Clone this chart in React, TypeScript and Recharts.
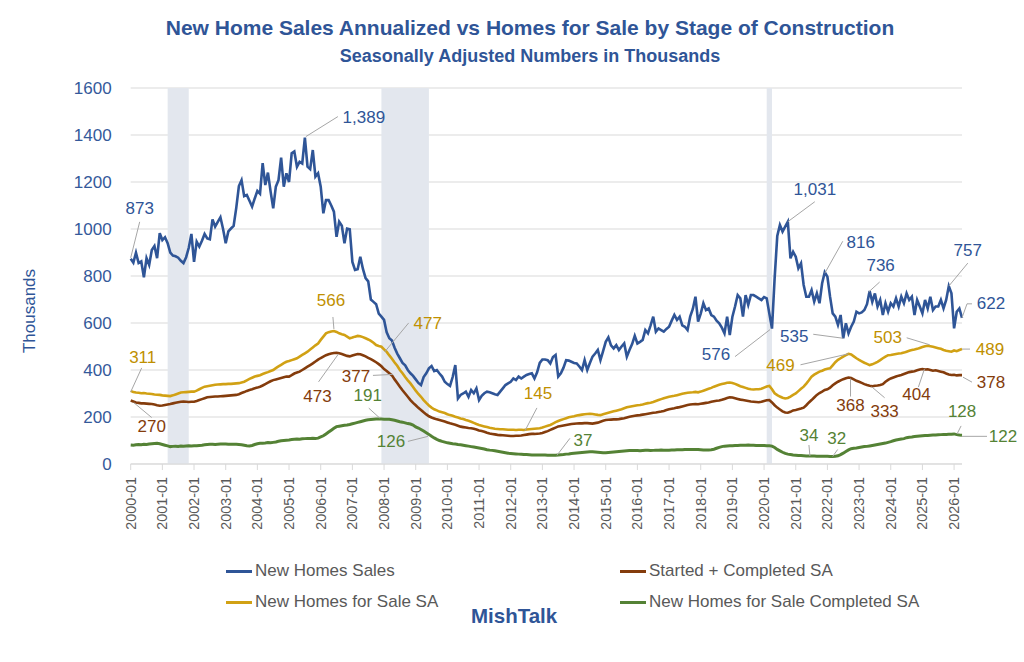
import React from "react";
import { LineChart, Line, XAxis, YAxis, CartesianGrid, ReferenceArea, LabelList } from "recharts";

// categories
const years = [
  2000, 2001, 2002, 2003, 2004, 2005, 2006, 2007, 2008, 2009, 2010, 2011, 2012, 2013,
  2014, 2015, 2016, 2017, 2018, 2019, 2020, 2021, 2022, 2023, 2024, 2025, 2026,
];
const monthNums = ["01", "02", "03", "04", "05", "06", "07", "08", "09", "10", "11", "12"];
const months = years.flatMap((y) => monthNums.map((m) => `${y}-${m}`)).slice(0, 316);
const yearTicks = years.map((y) => `${y}-01`);
const yTicks = [0, 200, 400, 600, 800, 1000, 1200, 1400, 1600];

// New Homes Sales, annualized, thousands (one row per year)
const sales = [
  873, 857, 899, 855, 862, 794, 876, 847, 911, 928, 876, 982,
  953, 965, 940, 900, 887, 884, 878, 865, 855, 880, 920, 979,
  860, 946, 925, 950, 979, 960, 956, 1041, 1010, 1030, 1050, 1000,
  939, 990, 1002, 1013, 1090, 1183, 1208, 1140, 1145, 1120, 1095, 1130,
  1162, 1150, 1280, 1187, 1240, 1160, 1088, 1180, 1208, 1304, 1180, 1237,
  1200, 1322, 1330, 1265, 1286, 1279, 1389, 1265, 1255, 1336, 1223, 1237,
  1180, 1067, 1123, 1123, 1100, 1074, 967, 1031, 1014, 939, 1002, 999,
  860, 826, 829, 882, 830, 791, 777, 700, 690, 680, 640, 627,
  613, 560, 535, 525, 495, 470, 450, 430, 420, 400, 386, 375,
  360, 345, 336, 370, 386, 407, 417, 395, 400, 385, 372, 350,
  340, 332, 370, 421, 279, 294, 300, 308, 286, 315, 301, 322,
  272, 290, 301, 308, 305, 301, 297, 294, 308, 322, 336, 343,
  350, 364, 357, 372, 364, 372, 379, 383, 386, 364, 390, 430,
  445, 445, 442, 428, 455, 464, 372, 386, 410, 442, 440, 435,
  430, 428, 415, 400, 442, 400, 430, 457, 470, 485, 442, 480,
  520, 539, 505, 492, 506, 485, 500, 513, 457, 485, 510, 545,
  513, 520, 528, 570, 556, 590, 627, 563, 577, 570, 563, 575,
  584, 610, 634, 613, 627, 590, 584, 570, 627, 660, 712, 606,
  640, 684, 655, 662, 634, 627, 610, 599, 580, 556, 627, 549,
  627, 670, 719, 705, 627, 719, 677, 719, 719, 712, 705, 698,
  710, 705, 640, 576, 790, 970, 1017, 989, 1010, 1031, 875, 903,
  882, 833, 854, 762, 712, 712, 740, 691, 726, 684, 769, 816,
  797, 712, 641, 627, 592, 634, 535, 599, 556, 584, 606, 648,
  641, 645, 655, 680, 736, 690, 726, 670, 698, 634, 684, 648,
  684, 670, 705, 670, 712, 684, 726, 698, 712, 634, 698, 670,
  641, 698, 662, 712, 655, 670, 670, 698, 662, 698, 757, 726,
  577, 648, 662, 622,
];

// New Homes for Sale SA
const forSale = [
  311, 306, 304, 303, 301, 302, 300, 299, 298, 296, 295, 294,
  292, 291, 290, 289, 292, 296, 300, 304, 305, 306, 307, 308,
  308, 312, 318, 324, 329, 331, 333, 335, 337, 338, 339, 340,
  340, 341, 341, 342, 343, 344, 347, 350, 356, 362, 367, 372,
  375, 378, 383, 387, 391, 396, 400, 408, 415, 422, 429, 435,
  438, 442, 446, 450, 457, 464, 471, 478, 487, 496, 505, 513,
  528, 542, 556, 561, 564, 566, 562, 556, 552, 549, 542, 535,
  538, 542, 545, 544, 540, 535, 530, 524, 516, 506, 502, 499,
  488, 477, 462, 448, 432, 418, 400, 386, 370, 356, 343, 328,
  312, 298, 286, 272, 260, 249, 240, 233, 228, 223, 220, 217,
  212, 208, 205, 201, 198, 194, 191, 187, 184, 180, 175, 170,
  166, 163, 160, 157, 154, 152, 150, 149, 148, 148, 147, 146,
  146, 146, 145, 146, 146, 145, 147, 148, 149, 150, 151, 152,
  155, 159, 163, 166, 172, 178, 183, 187, 191, 195, 199, 201,
  203, 206, 208, 210, 212, 213, 214, 213, 211, 209, 208, 212,
  215, 218, 221, 224, 227, 230, 233, 237, 241, 244, 246, 248,
  250, 251, 253, 256, 259, 261, 264, 268, 272, 276, 280, 283,
  286, 288, 290, 293, 296, 299, 301, 303, 304, 305, 307, 305,
  308, 312, 316, 320, 324, 329, 333, 337, 340, 343, 346, 347,
  345, 341, 336, 331, 328, 324, 320, 318, 317, 318, 318, 320,
  325, 330, 332, 318, 301, 293, 287, 282, 279, 281, 287, 294,
  300, 310, 320, 329, 342, 356, 372, 380, 387, 393, 397, 402,
  405, 407, 420, 433, 443, 450, 457, 463, 469, 466, 458, 450,
  443, 437, 431, 426, 421, 424, 429, 435, 442, 450, 457, 463,
  464, 466, 468, 470, 471, 474, 478, 482, 485, 487, 490, 494,
  498, 501, 503, 501, 499, 496, 493, 490, 485, 482, 480, 478,
  483, 480, 485, 489,
];

// Started + Completed SA
const started = [
  270, 266, 262, 260, 258, 258, 257, 256, 255, 253, 250, 248,
  249, 251, 253, 255, 258, 261, 263, 265, 266, 265, 264, 265,
  265, 268, 272, 276, 280, 284, 285, 286, 287, 287, 288, 289,
  290, 291, 292, 293, 294, 297, 302, 306, 311, 315, 318, 322,
  325, 329, 334, 340, 346, 352, 357, 360, 363, 366, 369, 372,
  372, 378, 385, 389, 393, 400, 407, 414, 421, 428, 436, 444,
  451, 457, 463, 467, 470, 472, 473, 471, 468, 464, 460, 458,
  462, 465, 468, 467, 463, 458, 452, 446, 440, 433, 425, 416,
  404, 396, 386, 377, 360, 345, 329, 314, 300, 286, 272, 260,
  250, 239, 230, 220, 211, 203, 198, 194, 190, 187, 184, 181,
  177, 173, 170, 167, 163, 159, 157, 155, 153, 152, 150, 147,
  143, 140, 137, 133, 130, 128, 126, 124, 123, 122, 121, 120,
  119, 119, 120, 120, 121, 123, 125, 127, 128, 128, 129, 130,
  132, 136, 140, 145, 150, 155, 160, 162, 164, 166, 168, 170,
  171, 172, 173, 173, 174, 174, 173, 172, 174, 176, 180, 184,
  187, 188, 189, 190, 190, 191, 193, 195, 198, 201, 203, 205,
  207, 208, 210, 212, 214, 216, 218, 219, 221, 223, 226, 230,
  233, 235, 237, 240, 242, 245, 248, 251, 253, 254, 255, 254,
  256, 258, 260, 262, 265, 267, 269, 270, 273, 277, 281, 284,
  283, 280, 277, 274, 272, 270, 268, 266, 265, 264, 263, 265,
  268, 271, 272, 262, 250, 240, 232, 224, 219, 218, 222, 228,
  230, 233, 236, 240, 250, 262, 272, 283, 294, 302, 308, 315,
  318, 325, 335, 343, 350, 356, 361, 365, 368, 366, 360, 354,
  350, 345, 340, 336, 333, 331, 333, 334, 336, 340, 350, 358,
  364, 368, 372, 376, 379, 383, 387, 391, 393, 395, 399, 402,
  404, 402, 403, 400, 397, 399, 396, 393, 390, 385, 381, 379,
  380, 377, 378, 378,
];

// New Homes for Sale Completed SA
const completed = [
  81, 80, 82, 83, 82, 84, 83, 85, 86, 87, 88, 86,
  83, 80, 77, 74, 75, 76, 75, 77, 76, 77, 78, 77,
  78, 78, 79, 80, 82, 83, 84, 84, 83, 84, 85, 85,
  85, 84, 84, 84, 84, 83, 82, 80, 78, 77, 79, 83,
  86, 88, 88, 89, 91, 90, 92, 94, 97, 99, 100, 101,
  102, 104, 105, 106, 105, 107, 108, 109, 109, 110, 109, 110,
  115, 120, 128, 136, 144, 152, 159, 161, 163, 165, 166, 168,
  171, 174, 177, 180, 183, 186, 188, 189, 190, 191, 191, 191,
  190, 190, 190, 188, 186, 183, 180, 178, 175, 172, 170, 166,
  158, 153, 147, 140, 133, 126, 118, 111, 105, 100, 96, 93,
  90, 88, 86, 85, 83, 82, 80, 78, 76, 74, 72, 70,
  68, 66, 64, 61, 59, 58, 56, 54, 52, 50, 48, 46,
  45, 44, 43, 42, 41, 40, 40, 39, 38, 38, 38, 38,
  38, 38, 37, 37, 37, 37, 38, 39, 40, 42, 43, 45,
  46, 47, 48, 49, 50, 51, 52, 52, 51, 50, 49, 48,
  48, 49, 50, 51, 52, 53, 54, 55, 56, 57, 57, 57,
  57, 56, 57, 58, 58, 57, 58, 59, 59, 60, 59, 59,
  59, 60, 60, 61, 61, 61, 62, 62, 62, 62, 62, 62,
  61, 60, 60, 60, 61, 63, 67, 71, 74, 76, 77, 78,
  78, 79, 79, 80, 80, 80, 81, 80, 80, 79, 79, 79,
  79, 78, 78, 76, 70, 62, 56, 50, 45, 42, 40, 38,
  37, 36, 36, 35, 34, 34, 34, 34, 33, 33, 33, 33,
  33, 32, 32, 33, 35, 40, 46, 53, 60, 65, 67, 68,
  70, 72, 74, 75, 77, 79, 81, 83, 85, 87, 89, 92,
  95, 99, 102, 104, 106, 108, 112, 114, 115, 117, 118, 119,
  120, 121, 121, 122, 123, 123, 124, 125, 126, 126, 127, 127,
  128, 125, 123, 122,
];

const recessions = [
  ["2001-03", "2001-11"],
  ["2007-12", "2009-06"],
  ["2020-02", "2020-04"],
];

const data = months.map((month, i) => ({
  month,
  sales: sales[i],
  forSale: forSale[i],
  started: started[i],
  completed: completed[i],
}));

// callouts: index of the point, text offset, leader line offsets (px from the point)
type Note = { i: number; t: [number, number]; l: [number, number][] };

const salesNotes: Note[] = [
  { i: 0, t: [9, -50], l: [[9, -37], [0, -1]] },
  { i: 66, t: [59, -20], l: [[33, -21], [1, -1]] },
  { i: 243, t: [-56, 26], l: [[-37, 28], [-2, 1]] },
  { i: 249, t: [27, -32], l: [[27, -20], [0, 0]] },
  { i: 263, t: [36, -30], l: [[18, -31], [0, 1]] },
  { i: 270, t: [-49, -2], l: [[-30, -4], [0, 0]] },
  { i: 280, t: [11, -26], l: [[10, -9], [-1, 1]] },
  { i: 310, t: [19, -36], l: [[19, -23], [0, 0]] },
  { i: 315, t: [29, -14], l: [[10, -14], [5, -14], [0, 0]] },
];
const forSaleNotes: Note[] = [
  { i: 0, t: [12, -33], l: [[11, -23], [0, 1]] },
  { i: 77, t: [-3, -30], l: [[-1, -14], [0, -2]] },
  { i: 97, t: [41, -28], l: [[22, -29], [-2, 0]] },
  { i: 149, t: [14, -36], l: [[13, -22], [1, 1]] },
  { i: 272, t: [-68, 12], l: [[-48, 11], [0, 0]] },
  { i: 302, t: [-40, -8], l: [[-21, -8], [2, -1]] },
  { i: 315, t: [28, 0], l: [[8, 0], [0, 0]] },
];
const startedNotes: Note[] = [
  { i: 0, t: [21, 26], l: [[3, 2], [21, 17]] },
  { i: 78, t: [-19, 44], l: [[-18, 29], [2, 1]] },
  { i: 99, t: [-36, 1], l: [[-19, 0], [1, -1]] },
  { i: 272, t: [2, 28], l: [[2, 19], [2, 1]] },
  { i: 280, t: [15, 26], l: [[15, 12], [2, 1]] },
  { i: 300, t: [-6, 25], l: [[-4, 18], [2, 0]] },
  { i: 315, t: [29, 7], l: [[10, 7], [1, 2]] },
];
const completedNotes: Note[] = [
  { i: 94, t: [-11, -24], l: [[-10, -11], [1, -1]] },
  { i: 113, t: [-38, 7], l: [[-21, 7], [-1, 2]] },
  { i: 160, t: [30, -15], l: [[17, -17], [4, 0]] },
  { i: 257, t: [0, -21], l: [[0, -11], [1, 0]] },
  { i: 266, t: [4, -18], l: [[5, -7], [0, 0]] },
  { i: 312, t: [8, -22], l: [[7, -8], [3, 0]] },
  { i: 315, t: [41, 1], l: [[25, 1], [0, 1]] },
];

const FONT = "'Liberation Sans', Arial, sans-serif";
const BLUE = "#2F5597";
const GOLD = "#D1A114";
const BROWN = "#843C0C";
const GREEN = "#548235";

const callout = (notes: Note[], color: string) => (props: any) => {
  const x = props.x ?? props.viewBox?.x;
  const y = props.y ?? props.viewBox?.y;
  const note = notes.find((n) => n.i === props.index);
  if (!note || x == null || y == null) return <g />;
  const pts = note.l.map(([dx, dy]) => `${x + dx},${y + dy}`).join(" ");
  return (
    <g>
      <polyline points={pts} fill="none" stroke="#A6A6A6" strokeWidth={1} />
      <text
        x={x + note.t[0]}
        y={y + note.t[1]}
        fill={color}
        fontSize={17}
        fontFamily={FONT}
        textAnchor="middle"
        dominantBaseline="central"
      >
        {Number(props.value).toLocaleString("en-US")}
      </text>
    </g>
  );
};

const YearTick = (props: any) => {
  const { x, y, payload } = props;
  return (
    <text
      x={x}
      y={y}
      transform={`rotate(-90, ${x}, ${y})`}
      textAnchor="end"
      dominantBaseline="central"
      fill="#595959"
      fontSize={14.4}
      fontFamily={FONT}
    >
      {payload.value}
    </text>
  );
};

const legendItems = [
  { name: "New Homes Sales", color: BLUE, left: 226, top: 571 },
  { name: "Started + Completed SA", color: BROWN, left: 620, top: 571 },
  { name: "New Homes for Sale SA", color: GOLD, left: 226, top: 602 },
  { name: "New Homes for Sale Completed SA", color: GREEN, left: 620, top: 602 },
];

export default function App() {
  return (
    <div style={{ position: "relative", width: 1024, height: 662, background: "#fff", fontFamily: FONT }}>
      <style>{"body{margin:0}"}</style>
      <div
        style={{
          position: "absolute", left: 30, width: 1000, top: 16, lineHeight: "24px",
          textAlign: "center", fontSize: 21, fontWeight: 700, color: BLUE,
        }}
      >
        New Home Sales Annualized vs Homes for Sale by Stage of Construction
      </div>
      <div
        style={{
          position: "absolute", left: 30, width: 1000, top: 46, lineHeight: "20px",
          textAlign: "center", fontSize: 18, fontWeight: 700, color: BLUE,
        }}
      >
        Seasonally Adjusted Numbers in Thousands
      </div>
      <div
        style={{
          position: "absolute", left: -30, top: 301, width: 120, height: 20, lineHeight: "20px",
          textAlign: "center", fontSize: 17, color: BLUE, transform: "rotate(-90deg)",
        }}
      >
        Thousands
      </div>

      <div style={{ position: "absolute", left: 0, top: 0 }}>
        <LineChart
          width={1024}
          height={560}
          data={data}
          margin={{ top: 88, right: 62, bottom: 26, left: 20.7 }}
        >
          <CartesianGrid vertical={false} stroke="#D9D9D9" />
          {recessions.map(([a, b]) => (
            <ReferenceArea key={a} x1={a} x2={b} fill="#E3E7EE" fillOpacity={1} stroke="none" />
          ))}
          <XAxis
            dataKey="month"
            scale="point"
            padding={{ left: 0, right: 0 }}
            ticks={yearTicks}
            interval={0}
            height={70}
            tickSize={6}
            tickMargin={7}
            stroke="#D9D9D9"
            tick={(p: any) => <YearTick {...p} />}
          />
          <YAxis
            domain={[0, 1600]}
            ticks={yTicks}
            width={110}
            axisLine={false}
            tickLine={false}
            tickSize={0}
            tickMargin={19}
            tick={{ fill: "#34599A", fontSize: 17, fontFamily: FONT }}
          />
          <Line type="linear" dataKey="sales" stroke={BLUE} strokeWidth={2.6} dot={false} activeDot={false} isAnimationActive={false}>
            <LabelList dataKey="sales" content={callout(salesNotes, BLUE)} />
          </Line>
          <Line type="linear" dataKey="started" stroke={BROWN} strokeWidth={2.6} dot={false} activeDot={false} isAnimationActive={false}>
            <LabelList dataKey="started" content={callout(startedNotes, BROWN)} />
          </Line>
          <Line type="linear" dataKey="forSale" stroke={GOLD} strokeWidth={2.6} dot={false} activeDot={false} isAnimationActive={false}>
            <LabelList dataKey="forSale" content={callout(forSaleNotes, "#BF9000")} />
          </Line>
          <Line type="linear" dataKey="completed" stroke={GREEN} strokeWidth={3} dot={false} activeDot={false} isAnimationActive={false}>
            <LabelList dataKey="completed" content={callout(completedNotes, GREEN)} />
          </Line>
        </LineChart>
      </div>

      {legendItems.map((it) => (
        <div
          key={it.name}
          style={{
            position: "absolute", left: it.left, top: it.top - 10, height: 20,
            display: "flex", alignItems: "center", fontSize: 17, color: "#595959", whiteSpace: "nowrap",
          }}
        >
          <span style={{ display: "inline-block", width: 26, height: 3, background: it.color, marginRight: 3 }} />
          {it.name}
        </div>
      ))}
      <div
        style={{
          position: "absolute", left: 471, top: 604, lineHeight: "24px",
          fontSize: 20.5, fontWeight: 700, color: BLUE,
        }}
      >
        MishTalk
      </div>
    </div>
  );
}
